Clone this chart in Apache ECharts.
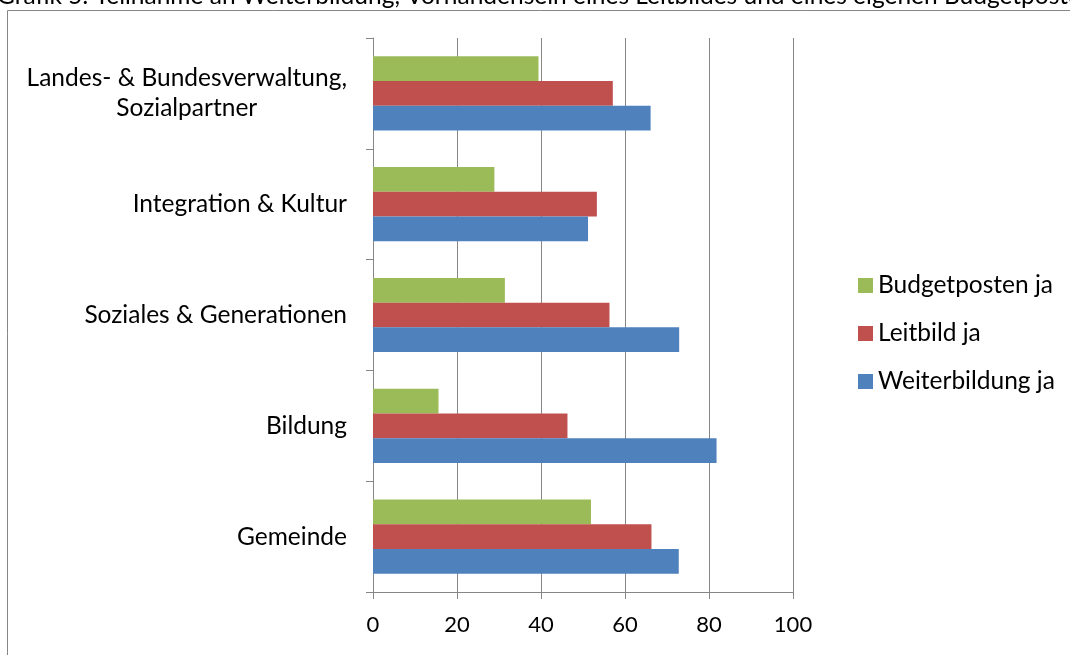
<!DOCTYPE html>
<html>
<head>
<meta charset="utf-8">
<script src="https://cdn.jsdelivr.net/npm/echarts@6/dist/echarts.min.js"></script>
<style>
html,body{margin:0;padding:0;background:#fff;}
#c{width:1070px;height:655px;}
</style>
</head>
<body>
<div id="c"></div>
<script>
var categories = ['Gemeinde', 'Bildung', 'Soziales & Generationen', 'Integration & Kultur', 'Landes- & Bundesverwaltung,\nSozialpartner'];
var weiterbildung = [72.8, 81.8, 72.9, 51.2, 66.1];
var leitbild = [66.3, 46.3, 56.3, 53.3, 57.1];
var budgetposten = [51.9, 15.6, 31.4, 28.9, 39.4];
var legendOrder = ['Budgetposten ja', 'Leitbild ja', 'Weiterbildung ja'];
var titleText = 'Grafik 5: Teilnahme an Weiterbildung, Vorhandensein eines Leitbildes und eines eigenen Budgetpostens';

var FONT = 'Lato';
var FS = 24.5;
var GRAY = '#868686';

var chart = echarts.init(document.getElementById('c'), null, {renderer: 'canvas'});
chart.setOption({
  animation: false,
  backgroundColor: '#fff',
  textStyle: {fontFamily: FONT, color: '#000'},
  graphic: [
    {type: 'rect', shape: {x: 7.5, y: 10.5, width: 1200, height: 1000}, style: {fill: 'none', stroke: GRAY, lineWidth: 1}, silent: true, z: -1},
    {type: 'text', left: -3, top: -16, style: {text: titleText, font: FS + 'px ' + FONT, fill: '#000'}, silent: true}
  ],
  grid: {left: 373, right: 277, top: 38, bottom: 63, containLabel: false},
  legend: {
    orient: 'vertical', left: 858, top: 273, padding: 0,
    itemWidth: 15, itemHeight: 15, itemGap: 23,
    icon: 'rect',
    data: legendOrder,
    textStyle: {fontFamily: FONT, fontSize: FS, color: '#000'}
  },
  xAxis: {
    type: 'value', min: 0, max: 100, interval: 20,
    axisLine: {show: true, lineStyle: {color: GRAY, width: 1}},
    axisTick: {show: true, length: 7, lineStyle: {color: GRAY}},
    splitLine: {show: true, lineStyle: {color: GRAY, width: 1}},
    axisLabel: {fontFamily: FONT, fontSize: 22, color: '#000', margin: 22}
  },
  yAxis: {
    type: 'category', data: categories,
    axisLine: {show: true, lineStyle: {color: GRAY, width: 1}},
    axisTick: {show: true, length: 7, lineStyle: {color: GRAY}},
    axisLabel: {
      fontFamily: FONT, fontSize: FS, color: '#000', margin: 26,
      formatter: function (v) {
        return v.split('\n').map(function (s) { return '{a|' + s + '}'; }).join('\n');
      },
      rich: {a: {fontFamily: FONT, fontSize: FS, color: '#000', align: 'center', lineHeight: 30}}
    }
  },
  series: [
    {name: 'Budgetposten ja', type: 'bar', data: budgetposten, itemStyle: {color: '#9BBB59'}, barGap: '0%', barCategoryGap: '33%'},
    {name: 'Leitbild ja', type: 'bar', data: leitbild, itemStyle: {color: '#C0504D'}, barGap: '0%', barCategoryGap: '33%'},
    {name: 'Weiterbildung ja', type: 'bar', data: weiterbildung, itemStyle: {color: '#4F81BD'}, barGap: '0%', barCategoryGap: '33%'}
  ]
});
</script>
</body>
</html>
